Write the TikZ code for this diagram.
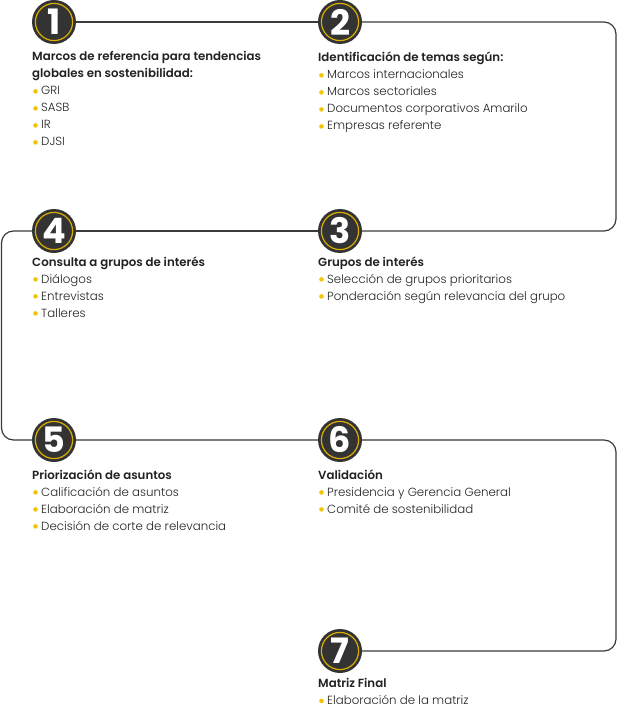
\documentclass[tikz,border=0pt]{standalone}
\usepackage{fontspec}
\setmainfont{Poppins}[UprightFont={* Light},BoldFont={* SemiBold}]
\newfontfamily\numfont{Poppins}[UprightFont={* Bold}]
\definecolor{disc}{HTML}{333333}
\definecolor{ring}{HTML}{D9AE00}
\definecolor{bul}{HTML}{F5C400}
\definecolor{dline}{HTML}{3A3A3A}
\definecolor{gline}{HTML}{7C7C7C}
\definecolor{txt}{HTML}{222222}
\newcommand\bdot{\hspace*{1pt}\tikz[baseline=0pt]\fill[bul](2.3pt,3.6pt) circle (2.3pt);\hspace{3.4pt}}
\tikzset{
  stepnum/.style={circle, fill=disc, minimum size=44pt, inner sep=0pt,
    text=white, font=\numfont\fontsize{35}{35}\selectfont,
    path picture={\draw[ring, line width=1.2pt] (path picture bounding box.center) circle (18.6pt);}},
  darkline/.style={draw=dline, line width=1.2pt},
  grayline/.style={draw=gline, line width=1.2pt},
  block/.style={anchor=base west, inner sep=0pt, align=left, text=txt,
    font=\fontsize{11.8}{17}\selectfont},
}
\begin{document}
\begin{tikzpicture}[x=1pt,y=-1pt]
\useasboundingbox (0,0) rectangle (618,708);
% circles
\node[stepnum] (n1) at (54,22) {1};
\node[stepnum] (n2) at (340,22) {2};
\node[stepnum] (n3) at (340,231) {3};
\node[stepnum] (n4) at (54,231) {4};
\node[stepnum] (n5) at (54,440) {5};
\node[stepnum] (n6) at (340,440) {6};
\node[stepnum] (n7) at (340,651) {7};
% corner coordinates
\coordinate (tr) at (616,22);
\coordinate (br) at (616,231);
\coordinate (tl) at (1.5,231);
\coordinate (bl) at (1.5,440);
\coordinate (g1) at (18,440);
\coordinate (g2) at (600,440);
\coordinate (mr) at (616,440);
\coordinate (lr) at (616,651);
% connectors
\draw[darkline] (n1) -- (n2);
\draw[darkline, rounded corners=12pt] (n2) -- (tr) -- (br) -- (n3);
\draw[darkline] (n3) -- (n4);
\draw[darkline, rounded corners=12pt] (n4) -- (tl) -- (bl) -- (g1);
\draw[grayline] (g1) -- (n5);
\draw[grayline] (n5) -- (n6);
\draw[grayline] (n6) -- (g2);
\draw[darkline, rounded corners=12pt] (g2) -- (mr) -- (lr) -- (n7);
% text blocks (anchored at the baseline of the last line)
\node[block] (t1) at (32,146) {\textbf{Marcos de referencia para tendencias}\\
  \textbf{globales en sostenibilidad:}\\
  \bdot GRI\\ \bdot SASB\\ \bdot IR\\ \bdot DJSI};
\node[block] (t2) at (318,130) {\textbf{Identificación de temas según:}\\
  \bdot Marcos internacionales\\ \bdot Marcos sectoriales\\
  \bdot Documentos corporativos Amarilo\\ \bdot Empresas referente};
\node[block] (t3) at (318,300) {\textbf{Grupos de interés}\\
  \bdot Selección de grupos prioritarios\\
  \bdot Ponderación según relevancia del grupo};
\node[block] (t4) at (32,317) {\textbf{Consulta a grupos de interés}\\
  \bdot Diálogos\\ \bdot Entrevistas\\ \bdot Talleres};
\node[block] (t5) at (32,530) {\textbf{Priorización de asuntos}\\
  \bdot Calificación de asuntos\\ \bdot Elaboración de matriz\\
  \bdot Decisión de corte de relevancia};
\node[block] (t6) at (318,513) {\textbf{Validación}\\
  \bdot Presidencia y Gerencia General\\ \bdot Comité de sostenibilidad};
\node[block] (t7) at (318,704.5) {\textbf{Matriz Final}\\
  \bdot Elaboración de la matriz};
\end{tikzpicture}
\end{document}
